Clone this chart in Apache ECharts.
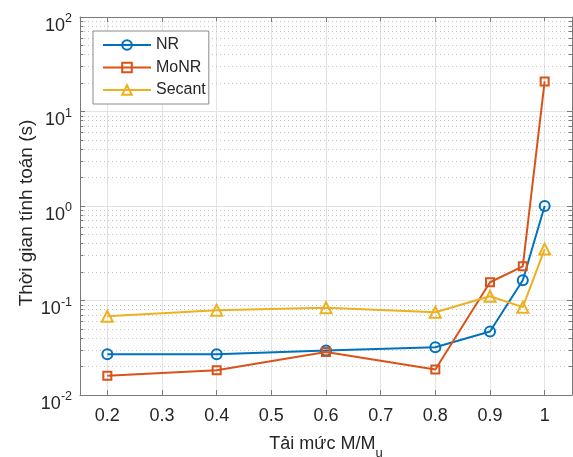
<!DOCTYPE html>
<html>
<head>
<meta charset="utf-8">
<script src="https://cdn.jsdelivr.net/npm/echarts@6/dist/echarts.min.js"></script>
<style>html,body{margin:0;padding:0;background:#fff}#c{width:573px;height:457px}</style>
</head>
<body>
<div id="c"></div>
<script>
const loadLevels = [0.2, 0.4, 0.6, 0.8, 0.9, 0.96, 1.0];
const nrTimes = [0.027, 0.027, 0.0295, 0.032, 0.047, 0.164, 1.0];
const monrTimes = [0.016, 0.0183, 0.0285, 0.0186, 0.156, 0.23, 20.8];
const secantTimes = [0.068, 0.079, 0.084, 0.075, 0.111, 0.085, 0.35];
const seriesNames = ['NR', 'MoNR', 'Secant'];
const seriesColors = ['#0072BD', '#D95319', '#EDB120'];
const seriesSymbols = ['circle', 'rect', 'triangle'];
const xRange = [0.15, 1.05];
const yRange = [0.01, 100];
const yTitle = 'Thời gian tính toán (s)';
const xTitle = 'Tải mức M/M{sub|u}';

const font = 'Liberation Sans, Arial, sans-serif';
const axisColor = '#7a7a7a';
const textColor = '#262626';

const minorValues = [];
for (let e = -2; e <= 1; e++) {
  for (let k = 2; k <= 9; k++) minorValues.push(k * Math.pow(10, e));
}
const minorGrid = minorValues.map(v => ({ yAxis: v }));
const tickLen = 0.006;
const minorTicks = [];
minorValues.forEach(v => {
  minorTicks.push([{ coord: [xRange[0], v] }, { coord: [xRange[0] + tickLen, v] }]);
  minorTicks.push([{ coord: [xRange[1] - tickLen, v] }, { coord: [xRange[1], v] }]);
});

function pairs(ys) { return loadLevels.map((x, i) => [x, ys[i]]); }
const allY = [nrTimes, monrTimes, secantTimes];

const series = seriesNames.map((name, i) => ({
  name: name,
  type: 'line',
  data: pairs(allY[i]),
  symbol: seriesSymbols[i],
  symbolSize: i === 1 ? 8 : (i === 2 ? 11 : 10),
  showAllSymbol: true,
  color: seriesColors[i],
  lineStyle: { width: 2, color: seriesColors[i] },
  itemStyle: { color: 'rgba(255,255,255,0)', borderColor: seriesColors[i], borderWidth: 2 },
  z: 10 + i,
  animation: false
}));
series[0].markLine = {
  silent: true,
  symbol: ['none', 'none'],
  label: { show: false },
  lineStyle: { type: [1, 3], color: '#c4c4c4', width: 1 },
  data: minorGrid,
  animation: false,
  z: 1
};
series[1].markLine = {
  silent: true,
  symbol: ['none', 'none'],
  label: { show: false },
  lineStyle: { type: 'solid', color: axisColor, width: 1 },
  data: minorTicks,
  animation: false,
  z: 2
};

const chart = echarts.init(document.getElementById('c'));
chart.setOption({
  animation: false,
  backgroundColor: '#fff',
  textStyle: { fontFamily: font },
  grid: { left: 80, right: 1, top: 17, bottom: 62, containLabel: false, outerBoundsMode: 'none' },
  legend: {
    orient: 'vertical',
    left: 93, top: 31,
    padding: [6, 3, 6, 9],
    itemGap: 6.5,
    itemWidth: 48, itemHeight: 12,
    backgroundColor: '#fff',
    borderColor: '#8a8a8a', borderWidth: 1, borderRadius: 0,
    textStyle: { fontSize: 16, color: textColor, fontFamily: font },
    data: seriesNames
  },
  xAxis: [{
    type: 'value', min: xRange[0], max: xRange[1], splitNumber: 9,
    name: xTitle, nameLocation: 'middle', nameGap: 33, nameMoveOverlap: false,
    nameTextStyle: { fontSize: 18, color: textColor, fontFamily: font,
      rich: { sub: { fontSize: 13, color: textColor, padding: [19, 0, 0, 0], fontFamily: font } } },
    axisLine: { show: true, lineStyle: { color: axisColor, width: 1 } },
    axisTick: { show: true, inside: true, length: 5, lineStyle: { color: axisColor } },
    axisLabel: { fontSize: 18, color: textColor, margin: 12, showMinLabel: false, showMaxLabel: false,
      formatter: v => (Math.round(v * 10) / 10).toString() },
    splitLine: { show: true, lineStyle: { color: '#e3e3e3', width: 1 } }
  }, {
    type: 'value', min: xRange[0], max: xRange[1], splitNumber: 9, position: 'top',
    axisLine: { show: true, lineStyle: { color: axisColor, width: 1 } },
    axisTick: { show: true, inside: true, length: 5, lineStyle: { color: axisColor } },
    axisLabel: { show: false }, splitLine: { show: false }
  }],
  yAxis: [{
    type: 'log', logBase: 10, min: yRange[0], max: yRange[1],
    name: yTitle, nameLocation: 'middle', nameGap: 44, nameRotate: 90, nameMoveOverlap: false,
    nameTextStyle: { fontSize: 19, color: textColor, fontFamily: font, padding: [0, 14, 0, 0] },
    axisLine: { show: true, lineStyle: { color: axisColor, width: 1 } },
    axisTick: { show: true, inside: true, length: 5, lineStyle: { color: axisColor } },
    axisLabel: {
      margin: 8, color: textColor, padding: [18, 0, 0, 0],
      formatter: v => '{b|10}{s|' + Math.round(Math.log10(v)) + '}',
      rich: {
        b: { fontSize: 18, color: textColor, fontFamily: font },
        s: { fontSize: 12.5, color: textColor, fontFamily: font, padding: [0, 0, 14, 0] }
      }
    },
    splitLine: { show: true, lineStyle: { color: '#e3e3e3', width: 1 } }
  }, {
    type: 'log', logBase: 10, min: yRange[0], max: yRange[1], position: 'right',
    axisLine: { show: true, lineStyle: { color: axisColor, width: 1 } },
    axisTick: { show: true, inside: true, length: 5, lineStyle: { color: axisColor } },
    axisLabel: { show: false }, splitLine: { show: false }
  }],
  series: series
});
</script>
</body>
</html>
